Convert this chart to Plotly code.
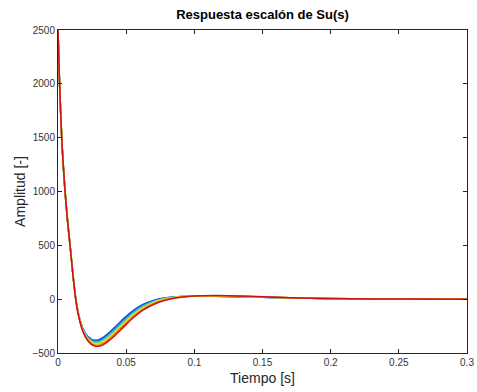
import plotly.graph_objects as go

# Time samples (s)
tiempo = [0, 0.001, 0.002, 0.003, 0.005, 0.007, 0.009, 0.011, 0.013, 0.015,
          0.018, 0.021, 0.024, 0.027, 0.030, 0.033, 0.037, 0.042, 0.048, 0.055,
          0.062, 0.070, 0.078, 0.086, 0.095, 0.105, 0.115, 0.130, 0.150, 0.170,
          0.200, 0.230, 0.260, 0.300]

# Step responses of Su(s) for the parameter sweep (first to last)
resp_1 = [2500, 2060, 1720, 1430, 1030, 730, 480, 225, 8, -135, -265, -335, -368, -382, -377, -357, -318, -258, -183, -108, -52, -12, 11, 21, 26, 27, 26, 23, 17, 11, 5, 2, 0.5, 0]
resp_2 = [2500, 2060, 1720, 1430, 1030, 730, 480, 224, 6, -137, -268, -340, -374, -389, -385, -366, -328, -269, -194, -117, -59, -16, 9, 21, 26, 28, 27, 24, 18, 11, 5, 2, 0.5, 0]
resp_3 = [2500, 2060, 1720, 1430, 1030, 730, 480, 223, 5, -139, -271, -345, -380, -396, -393, -375, -337, -279, -205, -126, -66, -21, 7, 20, 26, 29, 28, 25, 18, 12, 5, 2, 0.5, 0]
resp_4 = [2500, 2060, 1720, 1430, 1030, 730, 480, 222, 4, -141, -275, -350, -387, -404, -401, -384, -347, -290, -216, -135, -73, -26, 4, 19, 26, 30, 29, 26, 19, 12, 6, 2, 0.5, 0]
resp_5 = [2500, 2060, 1720, 1430, 1030, 730, 480, 222, 3, -143, -279, -356, -394, -412, -410, -393, -357, -300, -226, -145, -81, -31, 1, 18, 27, 31, 30, 27, 20, 13, 6, 2, 0.5, 0]
resp_6 = [2500, 2060, 1720, 1430, 1030, 730, 480, 221, 2, -145, -283, -361, -401, -420, -418, -403, -367, -310, -236, -154, -89, -37, -3, 16, 26, 31, 31, 28, 21, 13, 6, 2, 0.5, 0]
resp_7 = [2500, 2060, 1720, 1430, 1030, 730, 480, 220, 1, -147, -287, -366, -408, -428, -427, -412, -377, -320, -246, -164, -97, -43, -7, 14, 25, 32, 32, 29, 21, 14, 6, 2, 0.5, 0]
resp_8 = [2500, 2060, 1720, 1430, 1030, 730, 480, 220, 0, -150, -290, -370, -415, -436, -438, -425, -390, -335, -260, -175, -105, -50, -12, 10, 24, 31, 33, 30, 22, 14, 6, 2, 0.5, 0]

respuestas = [resp_1, resp_2, resp_3, resp_4, resp_5, resp_6, resp_7, resp_8]
colores = ['#1a2fc4', '#1f6cf0', '#19b4f0', '#3fd28c', '#c8e63c', '#f5d21e', '#f57814', '#c81418']

x_ticks = [0, 0.05, 0.1, 0.15, 0.2, 0.25, 0.3]
x_ticklabels = ['0', '0.05', '0.1', '0.15', '0.2', '0.25', '0.3']
y_ticks = [-500, 0, 500, 1000, 1500, 2000, 2500]

fig = go.Figure()
for r, c in zip(respuestas, colores):
    fig.add_trace(go.Scatter(
        x=tiempo, y=r, mode='lines',
        line=dict(color=c, width=1.5, shape='spline', smoothing=0.8),
        showlegend=False, hoverinfo='skip'))

axis_common = dict(
    showgrid=False, zeroline=False, showline=True, linecolor='#262626',
    linewidth=1, mirror='ticks', ticks='inside', ticklen=4, tickcolor='#262626',
    automargin=False,
    tickfont=dict(family='Liberation Sans', size=10, color='#333333'),
)

fig.update_layout(
    width=477, height=392,
    margin=dict(l=58, r=10, t=30, b=39),
    paper_bgcolor='white', plot_bgcolor='white',
    title=dict(text='<b>Respuesta escalón de Su(s)</b>', x=0.5, xref='paper',
               y=0.962, yref='container', xanchor='center', yanchor='middle',
               font=dict(family='Liberation Sans', size=13, color='black')),
    xaxis=dict(range=[0, 0.3], tickvals=x_ticks, ticktext=x_ticklabels,
               title=dict(text='Tiempo [s]', standoff=6,
                          font=dict(family='Liberation Sans', size=14, color='#262626')),
               **axis_common),
    yaxis=dict(range=[-500, 2500], tickvals=y_ticks,
               title=dict(text='Amplitud [-]', standoff=3,
                          font=dict(family='Liberation Sans', size=14, color='#262626')),
               **axis_common),
)

fig.write_html('out.html')
